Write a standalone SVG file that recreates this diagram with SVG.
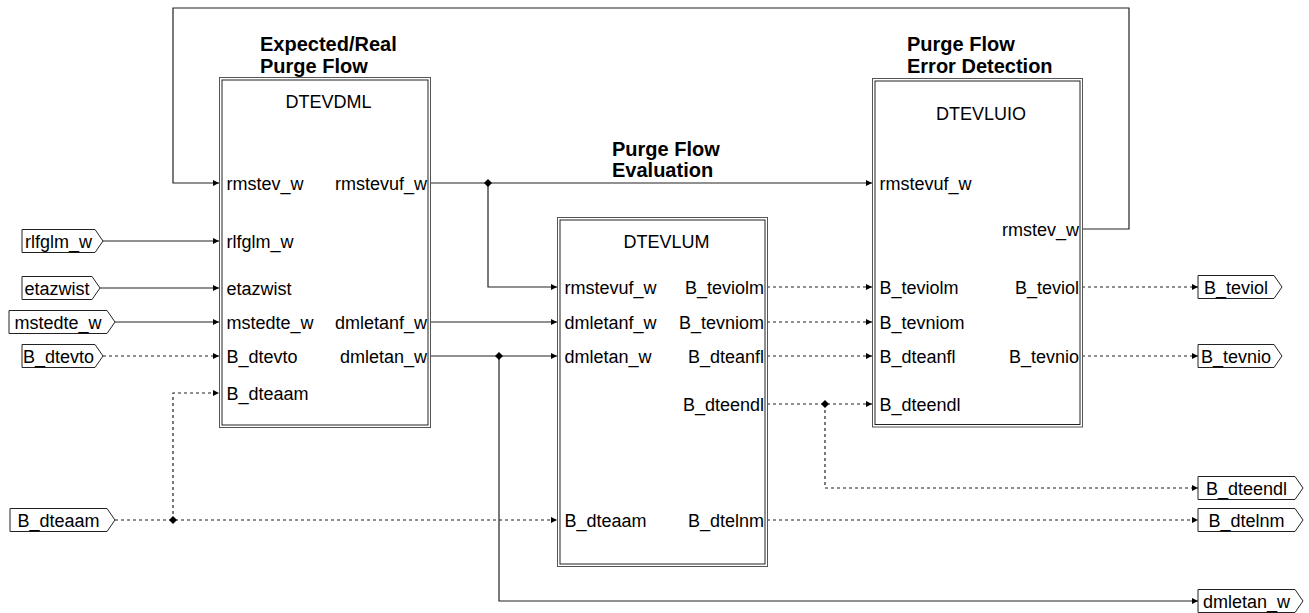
<svg xmlns="http://www.w3.org/2000/svg" width="1309" height="613" viewBox="0 0 1309 613">
<style>
text{font-family:"Liberation Sans",Arial,sans-serif;fill:#000}
.p{font-size:18px}
.title{font-size:20px;font-weight:bold}
.bo{fill:#fff;stroke:#555;stroke-width:1}
.bi{fill:none;stroke:#222;stroke-width:1}
.tag{fill:#fff;stroke:#222;stroke-width:1}
.c{fill:none;stroke:#222;stroke-width:1.2}
.d{fill:none;stroke:#222;stroke-width:1.2;stroke-dasharray:3,3}
.r{text-anchor:end}
.m{text-anchor:middle}
</style>
<defs>
<marker id="a" markerUnits="userSpaceOnUse" markerWidth="7" markerHeight="8" refX="6" refY="4" orient="auto"><path d="M0,1 L6,4 L0,7 z" fill="#000"/></marker>
</defs>
<rect width="1309" height="613" fill="#fff"/>
<g id="connectors">
<polyline class="c" points="1082,229 1129,229 1129,8 173,8 173,183 219,183" marker-end="url(#a)"/>
<polyline class="c" points="430,183 872,183" marker-end="url(#a)"/>
<polyline class="c" points="488,183 488,287 557,287" marker-end="url(#a)"/>
<polyline class="c" points="103,241 219,241" marker-end="url(#a)"/>
<polyline class="c" points="100,288 219,288" marker-end="url(#a)"/>
<polyline class="c" points="115,322 219,322" marker-end="url(#a)"/>
<polyline class="d" points="103,356 219,356" marker-end="url(#a)"/>
<polyline class="d" points="115,520 557,520" marker-end="url(#a)"/>
<polyline class="d" points="173,520 173,393 219,393" marker-end="url(#a)"/>
<polyline class="c" points="430,322 557,322" marker-end="url(#a)"/>
<polyline class="c" points="430,356 557,356" marker-end="url(#a)"/>
<polyline class="c" points="499,356 499,601 1198,601" marker-end="url(#a)"/>
<polyline class="d" points="767,287 872,287" marker-end="url(#a)"/>
<polyline class="d" points="767,322 872,322" marker-end="url(#a)"/>
<polyline class="d" points="767,356 872,356" marker-end="url(#a)"/>
<polyline class="d" points="767,404 872,404" marker-end="url(#a)"/>
<polyline class="d" points="825,404 825,488 1198,488" marker-end="url(#a)"/>
<polyline class="d" points="767,520 1198,520" marker-end="url(#a)"/>
<polyline class="d" points="1082,287 1198,287" marker-end="url(#a)"/>
<polyline class="d" points="1082,356 1198,356" marker-end="url(#a)"/>
<g fill="#000">
<path d="M488,179 L492,183 L488,187 L484,183 z"/>
<path d="M499,352 L503,356 L499,360 L495,356 z"/>
<path d="M173,516 L177,520 L173,524 L169,520 z"/>
<path d="M825,400 L829,404 L825,408 L821,404 z"/>
</g>
</g>
<g id="in_rlfglm_w"><polygon class="tag" points="22,229.5 95,229.5 103,241 95,252.5 22,252.5"/><text class="p m" x="58.5" y="247.5">rlfglm_w</text></g>
<g id="in_etazwist"><polygon class="tag" points="22,276.5 92,276.5 100,288 92,299.5 22,299.5"/><text class="p m" x="57" y="294.5">etazwist</text></g>
<g id="in_mstedte_w"><polygon class="tag" points="9,310.5 107,310.5 115,322 107,333.5 9,333.5"/><text class="p m" x="58" y="328.5">mstedte_w</text></g>
<g id="in_B_dtevto"><polygon class="tag" points="22,344.5 95,344.5 103,356 95,367.5 22,367.5"/><text class="p m" x="58.5" y="362.5">B_dtevto</text></g>
<g id="in_B_dteaam"><polygon class="tag" points="10,508.5 107,508.5 115,520 107,531.5 10,531.5"/><text class="p m" x="58.5" y="526.5">B_dteaam</text></g>
<g id="out_B_teviol"><polygon class="tag" points="1198,275.5 1274,275.5 1282,287 1274,298.5 1198,298.5"/><text class="p m" x="1236" y="293.5">B_teviol</text></g>
<g id="out_B_tevnio"><polygon class="tag" points="1198,344.5 1274,344.5 1282,356 1274,367.5 1198,367.5"/><text class="p m" x="1236" y="362.5">B_tevnio</text></g>
<g id="out_B_dteendl"><polygon class="tag" points="1198,476.5 1295,476.5 1303,488 1295,499.5 1198,499.5"/><text class="p m" x="1246.5" y="494.5">B_dteendl</text></g>
<g id="out_B_dtelnm"><polygon class="tag" points="1198,508.5 1295,508.5 1303,520 1295,531.5 1198,531.5"/><text class="p m" x="1246.5" y="526.5">B_dtelnm</text></g>
<g id="out_dmletan_w"><polygon class="tag" points="1198,589.5 1295,589.5 1303,601 1295,612.5 1198,612.5"/><text class="p m" x="1246.5" y="607.5">dmletan_w</text></g>
<g id="DTEVDML">
<text class="title" x="260" y="51">Expected/Real</text>
<text class="title" x="260" y="72.5">Purge Flow</text>
<rect class="bo" x="219.5" y="77.5" width="211" height="350"/>
<rect class="bi" x="222" y="80" width="206" height="345"/>
<text class="p m" x="328.5" y="108">DTEVDML</text>
<text class="p" x="226.5" y="190">rmstev_w</text>
<text class="p" x="226.5" y="248">rlfglm_w</text>
<text class="p" x="226.5" y="295">etazwist</text>
<text class="p" x="226.5" y="329">mstedte_w</text>
<text class="p" x="226.5" y="363">B_dtevto</text>
<text class="p" x="226.5" y="400">B_dteaam</text>
<text class="p r" x="427" y="190">rmstevuf_w</text>
<text class="p r" x="427" y="329">dmletanf_w</text>
<text class="p r" x="427" y="363">dmletan_w</text>
</g>
<g id="DTEVLUM">
<text class="title" x="612" y="155.5">Purge Flow</text>
<text class="title" x="612" y="177">Evaluation</text>
<rect class="bo" x="557.5" y="217.5" width="210" height="349"/>
<rect class="bi" x="560" y="220" width="205" height="344"/>
<text class="p m" x="666.5" y="248">DTEVLUM</text>
<text class="p" x="564.5" y="294">rmstevuf_w</text>
<text class="p" x="564.5" y="329">dmletanf_w</text>
<text class="p" x="564.5" y="363">dmletan_w</text>
<text class="p" x="564.5" y="527">B_dteaam</text>
<text class="p r" x="764" y="294">B_teviolm</text>
<text class="p r" x="764" y="329">B_tevniom</text>
<text class="p r" x="764" y="363">B_dteanfl</text>
<text class="p r" x="764" y="411">B_dteendl</text>
<text class="p r" x="764" y="527">B_dtelnm</text>
</g>
<g id="DTEVLUIO">
<text class="title" x="907" y="51">Purge Flow</text>
<text class="title" x="907" y="72.5">Error Detection</text>
<rect class="bo" x="872.5" y="78.5" width="210" height="348.5"/>
<rect class="bi" x="875" y="81" width="205" height="343.5"/>
<text class="p m" x="981" y="119.5">DTEVLUIO</text>
<text class="p" x="879.5" y="190">rmstevuf_w</text>
<text class="p" x="879.5" y="294">B_teviolm</text>
<text class="p" x="879.5" y="329">B_tevniom</text>
<text class="p" x="879.5" y="363">B_dteanfl</text>
<text class="p" x="879.5" y="411">B_dteendl</text>
<text class="p r" x="1079" y="236">rmstev_w</text>
<text class="p r" x="1079" y="294">B_teviol</text>
<text class="p r" x="1079" y="363">B_tevnio</text>
</g>
</svg>
